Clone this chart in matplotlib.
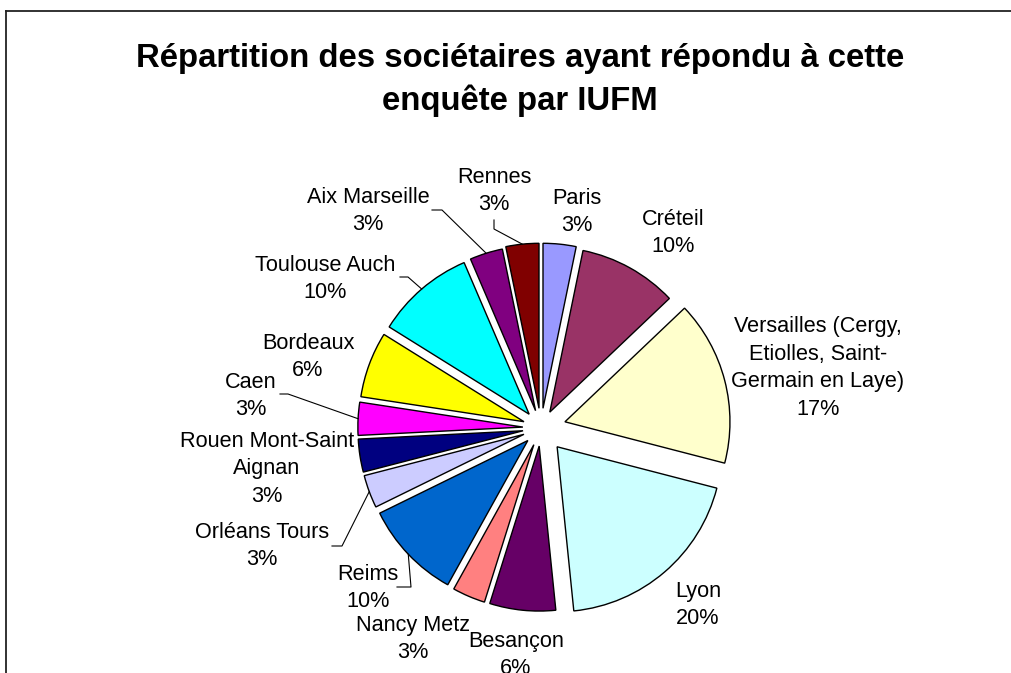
import matplotlib
matplotlib.use("Agg")
import matplotlib.pyplot as plt
from matplotlib.lines import Line2D
import numpy as np

plt.rcParams['font.family'] = ['Liberation Sans', 'DejaVu Sans']

# --- données
iufm = ["Paris", "Créteil", "Versailles (Cergy,\nEtiolles, Saint-\nGermain en Laye)",
        "Lyon", "Besançon", "Nancy Metz", "Reims", "Orléans Tours",
        "Rouen Mont-Saint\nAignan", "Caen", "Bordeaux", "Toulouse Auch",
        "Aix Marseille", "Rennes"]
effectifs = [1, 3, 5, 6, 2, 1, 3, 1, 1, 1, 2, 3, 1, 1]
pourcentages = [3, 10, 17, 20, 6, 3, 10, 3, 3, 3, 6, 10, 3, 3]
couleurs = ["#9999FF", "#993366", "#FFFFCC", "#CCFFFF", "#660066", "#FF8080",
            "#0066CC", "#CCCCFF", "#000080", "#FF00FF", "#FFFF00", "#00FFFF",
            "#800080", "#800000"]

# --- mise en page (pixels)
W, H = 1012, 673
CX, CY, R = 541, 428, 165
eclatement = [0.12, 0.11, 0.15, 0.15, 0.11, 0.11, 0.11, 0.11, 0.11, 0.11, 0.11, 0.11, 0.11, 0.12]
pos_etiq = [(577, 212), (673, 233), (818, 368), (698, 605), (516, 655), (413, 639),
            (368, 588), (262, 546), (267, 469), (251, 396), (308, 357), (325, 279),
            (368, 211), (494, 191)]
# traits de rappel : points de départ, le dernier point est sur la part
rappels = {6: [(397, 587), (411, 587)],
           7: [(332, 546), (342, 546)],
           9: [(280, 394), (288, 394)],
           11: [(400, 277), (408, 277)],
           12: [(432, 210), (442, 210)],
           13: [(494, 220), (494, 229)]}


def px(x, y):
    # pixel -> coordonnées du camembert (rayon 1)
    return (x - CX) / R, (CY - y) / R


fig = plt.figure(figsize=(W / 100, H / 100), dpi=100)
ax = fig.add_axes([0, 0, 1, 1])

parts, _ = ax.pie(effectifs, colors=couleurs, explode=eclatement, startangle=90,
                  counterclock=False, radius=1,
                  wedgeprops=dict(edgecolor='black', linewidth=1.0))

ax.set_xlim(-CX / R, (W - CX) / R)
ax.set_ylim(-(H - CY) / R, CY / R)
ax.set_aspect('auto')
ax.axis('off')

for i, (nom, pc) in enumerate(zip(iufm, pourcentages)):
    x, y = px(*pos_etiq[i])
    ax.text(x, y, f"{nom}\n{pc}%", ha='center', va='center', fontsize=15.6,
            linespacing=1.42, color='black')
    if i in rappels:
        p = parts[i]
        milieu = np.radians((p.theta1 + p.theta2) / 2)
        xb = p.center[0] + p.r * np.cos(milieu)
        yb = p.center[1] + p.r * np.sin(milieu)
        pts = [px(a, b) for a, b in rappels[i]] + [(xb, yb)]
        ax.plot([q[0] for q in pts], [q[1] for q in pts], color='black', lw=0.8)

fig.text(520 / W, 1 - 80 / H,
         "Répartition des sociétaires ayant répondu à cette\nenquête par IUFM",
         ha='center', va='center', fontsize=23.7, fontweight='bold', linespacing=1.4)

# cadre (haut et gauche seulement visibles)
fig.add_artist(Line2D([6 / W, 1.01], [1 - 11 / H, 1 - 11 / H], transform=fig.transFigure,
                      color='#222222', lw=1.3))
fig.add_artist(Line2D([6 / W, 6 / W], [1 - 11 / H, -0.01], transform=fig.transFigure,
                      color='#222222', lw=1.3))

fig.savefig("out.png", dpi=100)
